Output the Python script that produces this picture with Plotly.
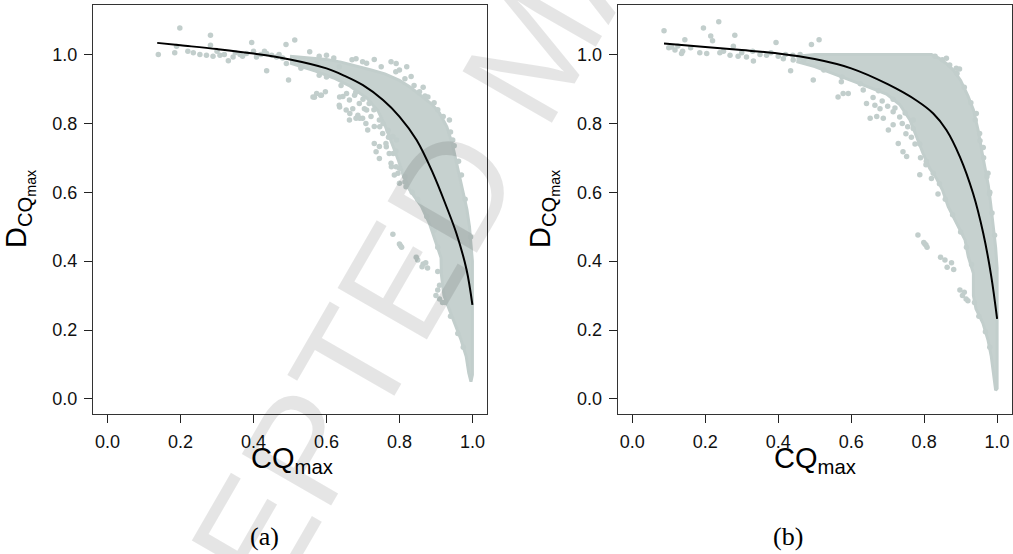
import plotly.graph_objects as go

# ---------------- data ----------------
tick_vals = [0.0, 0.2, 0.4, 0.6, 0.8, 1.0]
tick_text = ["0.0", "0.2", "0.4", "0.6", "0.8", "1.0"]

# fitted curves
fit_a_x = [0.136, 0.2, 0.3, 0.4, 0.5, 0.6, 0.65, 0.7, 0.755, 0.8, 0.847, 0.892, 0.929, 0.956, 0.984, 1.0]
fit_a_y = [1.034, 1.027, 1.016, 1.003, 0.986, 0.960, 0.938, 0.911, 0.868, 0.820, 0.752, 0.655, 0.558, 0.481, 0.375, 0.273]
fit_b_x = [0.087, 0.2, 0.3, 0.4, 0.5, 0.6, 0.7, 0.78, 0.825, 0.861, 0.898, 0.934, 0.962, 0.984, 1.0]
fit_b_y = [1.032, 1.022, 1.013, 1.003, 0.987, 0.960, 0.914, 0.866, 0.829, 0.781, 0.703, 0.597, 0.481, 0.356, 0.232]

# outline of the densest part of each point cloud
core_a_x = [0.50, 0.55, 0.60, 0.64, 0.68, 0.72, 0.76, 0.80, 0.83, 0.86, 0.89, 0.91, 0.93, 0.945, 0.955, 0.965,
            0.973, 0.985, 0.992, 0.997, 1.0, 1.0,
            0.996, 0.99, 0.983, 0.969, 0.951, 0.935, 0.922, 0.915, 0.914, 0.898, 0.882, 0.86, 0.828, 0.81,
            0.798, 0.78, 0.762, 0.742, 0.712, 0.665, 0.62, 0.57, 0.52, 0.50]
core_a_y = [0.995, 0.99, 0.986, 0.978, 0.968, 0.956, 0.944, 0.925, 0.905, 0.88, 0.855, 0.83, 0.79, 0.74, 0.69, 0.64,
            0.60, 0.55, 0.50, 0.45, 0.40, 0.07,
            0.05, 0.075, 0.123, 0.171, 0.22, 0.26, 0.30, 0.36, 0.41, 0.46, 0.51, 0.56, 0.607, 0.65,
            0.69, 0.74, 0.79, 0.835, 0.872, 0.908, 0.932, 0.952, 0.968, 0.975]

core_b_x = [0.45, 0.50, 0.82, 0.84, 0.86, 0.88, 0.90, 0.92, 0.935, 0.948, 0.958, 0.968, 0.976, 0.982, 0.989, 0.996,
            1.0, 1.0,
            0.996, 0.99, 0.984, 0.975, 0.961, 0.942, 0.935, 0.935, 0.921, 0.912, 0.889, 0.866, 0.85, 0.834,
            0.815, 0.797, 0.779, 0.761, 0.733, 0.697, 0.65, 0.60, 0.55, 0.50, 0.45]
core_b_y = [0.995, 1.0, 1.0, 0.99, 0.975, 0.955, 0.925, 0.88, 0.84, 0.78, 0.72, 0.67, 0.62, 0.57, 0.51, 0.44,
            0.38, 0.03,
            0.025, 0.074, 0.123, 0.171, 0.22, 0.262, 0.30, 0.365, 0.413, 0.462, 0.51, 0.558, 0.607, 0.64,
            0.67, 0.713, 0.762, 0.81, 0.855, 0.885, 0.905, 0.925, 0.945, 0.965, 0.98]

# individual points (sparser parts of the clouds)
pts_a_x = [0.139, 0.198, 0.184, 0.189, 0.282, 0.282, 0.253, 0.271, 0.289, 0.308, 0.331, 0.344, 0.395, 0.363,
           0.381, 0.408, 0.436, 0.463, 0.49, 0.509, 0.527, 0.436, 0.489, 0.513, 0.496, 0.563, 0.573, 0.586,
           0.554, 0.636, 0.655, 0.636, 0.664, 0.691, 0.71, 0.746, 0.769, 0.792, 0.764, 0.783, 0.778, 0.796, 0.815,
           0.22, 0.235, 0.30, 0.32, 0.35, 0.37, 0.42, 0.45, 0.47, 0.40, 0.43, 0.48,
           0.567, 0.584, 0.597, 0.635, 0.654, 0.672, 0.686, 0.663, 0.681, 0.699, 0.713, 0.731, 0.731, 0.736,
           0.745, 0.786, 0.777, 0.791, 0.80, 0.832, 0.855, 0.878, 0.937, 0.946, 0.635, 0.572, 0.681, 0.699, 0.731,
           0.782, 0.80, 0.803, 0.806, 0.846, 0.85, 0.865, 0.872, 0.877, 0.862, 0.90, 0.905, 0.91, 0.918,
           0.95, 0.962, 0.97, 0.98, 0.995, 0.94, 0.92, 0.895, 0.87, 0.84, 0.815, 0.79, 0.75, 0.71, 0.67, 0.62,
           0.58, 0.60, 0.82, 0.865, 0.905,
           0.905, 0.895, 0.875, 0.85, 0.835, 0.815, 0.80, 0.79, 0.77, 0.755, 0.73, 0.70, 0.68, 0.64, 0.60, 0.58,
           0.53, 0.96, 0.975, 0.94, 0.925, 0.91, 0.905,
           0.645, 0.663, 0.677, 0.69, 0.704, 0.717, 0.722, 0.708, 0.745, 0.754, 0.763, 0.772, 0.777, 0.791, 0.80,
           0.818, 0.745, 0.782]
pts_a_y = [1.0, 1.077, 1.005, 1.024, 1.056, 1.027, 1.0, 0.998, 0.995, 0.998, 0.982, 0.993, 1.035, 1.0,
           1.003, 0.993, 1.003, 0.993, 0.974, 0.979, 0.969, 0.953, 1.029, 1.042, 0.926, 0.877, 0.887, 0.882,
           1.008, 0.877, 0.887, 0.848, 0.829, 0.815, 0.839, 0.79, 0.78, 0.752, 0.732, 0.713, 0.674, 0.655, 0.645,
           1.01, 1.005, 1.01, 1.0, 1.005, 0.995, 1.0, 0.998, 1.0, 1.01, 1.01, 0.99,
           0.876, 0.882, 0.892, 0.853, 0.839, 0.843, 0.824, 0.81, 0.815, 0.815, 0.781, 0.791, 0.742, 0.718,
           0.698, 0.65, 0.979, 0.974, 0.955, 0.936, 0.892, 0.877, 0.81, 0.752, 0.965, 0.974, 0.988, 0.979, 0.986,
           0.478, 0.45, 0.445, 0.44, 0.411, 0.403, 0.392, 0.395, 0.38, 0.384, 0.30, 0.316, 0.29, 0.28,
           0.735, 0.69, 0.65, 0.58, 0.47, 0.775, 0.82, 0.86, 0.88, 0.91, 0.93, 0.95, 0.965, 0.975, 0.985, 0.99,
           0.995, 0.998, 0.965, 0.905, 0.84,
           0.44, 0.49, 0.53, 0.58, 0.60, 0.63, 0.67, 0.72, 0.76, 0.80, 0.84, 0.87, 0.89, 0.91, 0.935, 0.94,
           0.96, 0.19, 0.15, 0.24, 0.28, 0.33, 0.37,
           0.878, 0.868, 0.882, 0.858, 0.843, 0.858, 0.82, 0.80, 0.81, 0.771, 0.742, 0.713, 0.684, 0.674, 0.626,
           0.616, 0.733, 0.762]

pts_b_x = [0.087, 0.108, 0.117, 0.135, 0.138, 0.144, 0.195, 0.215, 0.237, 0.22, 0.185, 0.204, 0.24, 0.268,
           0.29, 0.313, 0.332, 0.281, 0.277, 0.394, 0.368, 0.414, 0.441, 0.459, 0.434, 0.491, 0.512, 0.496,
           0.564, 0.578, 0.592, 0.573,
           0.10, 0.125, 0.16, 0.25, 0.30, 0.33, 0.35, 0.38, 0.40, 0.42, 0.44, 0.46, 0.47,
           0.633, 0.642, 0.665, 0.679, 0.652, 0.67, 0.688, 0.702, 0.715, 0.729, 0.742, 0.752, 0.788, 0.715, 0.733,
           0.861, 0.888, 0.897, 0.943, 0.952, 0.962, 0.975, 0.98,
           0.838, 0.783, 0.799, 0.802, 0.805, 0.808, 0.845, 0.857, 0.875, 0.863, 0.881, 0.898, 0.905, 0.91, 0.915,
           0.92,
           0.83, 0.85, 0.87, 0.89, 0.91, 0.928, 0.94, 0.953, 0.963, 0.972, 0.979, 0.986, 0.993,
           0.93, 0.916, 0.90, 0.878, 0.858, 0.842, 0.825, 0.806, 0.788, 0.77, 0.748, 0.715, 0.675, 0.625, 0.575,
           0.525, 0.95, 0.968, 0.98, 0.938,
           0.66, 0.685, 0.70, 0.72, 0.74, 0.755, 0.765, 0.775, 0.79, 0.805, 0.82, 0.77, 0.75]
pts_b_y = [1.069, 1.022, 1.013, 1.003, 1.01, 1.043, 1.077, 1.054, 1.095, 1.04, 1.005, 1.003, 1.005, 0.998,
           0.995, 0.993, 0.981, 1.056, 1.024, 1.035, 0.998, 0.988, 0.984, 0.993, 0.953, 1.029, 1.043, 0.926,
           0.877, 0.887, 0.887, 0.921,
           1.02, 1.025, 1.02, 1.01, 1.005, 1.01, 1.0, 1.005, 0.995, 1.0, 0.998, 1.0, 0.985,
           0.897, 0.858, 0.853, 0.843, 0.815, 0.82, 0.815, 0.781, 0.796, 0.742, 0.718, 0.704, 0.651, 0.834, 0.819,
           0.989, 0.96, 0.958, 0.829, 0.771, 0.73, 0.655, 0.60,
           0.595, 0.476, 0.454, 0.45, 0.447, 0.44, 0.411, 0.403, 0.395, 0.382, 0.376, 0.316, 0.30, 0.31, 0.29,
           0.285,
           0.995, 0.985, 0.97, 0.945, 0.905, 0.86, 0.81, 0.75, 0.70, 0.645, 0.595, 0.54, 0.475,
           0.39, 0.44, 0.485, 0.535, 0.58, 0.625, 0.655, 0.69, 0.74, 0.785, 0.83, 0.87, 0.895, 0.915, 0.935,
           0.955, 0.24, 0.195, 0.15, 0.28,
           0.875, 0.865, 0.85, 0.845, 0.80, 0.79, 0.76, 0.74, 0.70, 0.68, 0.64, 0.81, 0.77]

# ---------------- styling ----------------
PT = "#c2cecc"
CORE = "#c6d1cf"
W, H = 1013, 554
y_dom = [1 - 414 / H, 1 - 5 / H]
xa_dom = [93 / W, 487 / W]
xb_dom = [617.7 / W, 1011.7 / W]

fig = go.Figure()

def add_panel(cx, cy, px, py, fx, fy, xa, ya):
    fig.add_trace(go.Scatter(x=cx, y=cy, mode="lines", fill="toself", fillcolor=CORE,
                             line=dict(color=PT, width=3), hoverinfo="skip", showlegend=False,
                             xaxis=xa, yaxis=ya))
    fig.add_trace(go.Scatter(x=px, y=py, mode="markers", marker=dict(color=PT, size=5.5),
                             showlegend=False, xaxis=xa, yaxis=ya))
    fig.add_trace(go.Scatter(x=fx, y=fy, mode="lines", line=dict(color="black", width=2, shape="spline",
                                                                 smoothing=1.0),
                             showlegend=False, xaxis=xa, yaxis=ya))

add_panel(core_a_x, core_a_y, pts_a_x, pts_a_y, fit_a_x, fit_a_y, "x", "y")
add_panel(core_b_x, core_b_y, pts_b_x, pts_b_y, fit_b_x, fit_b_y, "x2", "y2")

tickfont = dict(family="Liberation Sans, Arial, sans-serif", size=18, color="#111")
axis_common = dict(showgrid=False, zeroline=False, showline=True, mirror=True, linecolor="#333",
                   linewidth=1, ticks="outside", ticklen=8, tickwidth=1, tickcolor="#222",
                   tickvals=tick_vals, ticktext=tick_text, tickfont=tickfont, ticklabelstandoff=3)

fig.update_layout(
    width=W, height=H, margin=dict(l=0, r=0, t=0, b=0),
    paper_bgcolor="white", plot_bgcolor="white",
    xaxis=dict(domain=xa_dom, range=[-0.04, 1.04], anchor="y", **axis_common),
    yaxis=dict(domain=y_dom, range=[-0.044, 1.144], anchor="x", **axis_common),
    xaxis2=dict(domain=xb_dom, range=[-0.04, 1.04], anchor="y2", **axis_common),
    yaxis2=dict(domain=y_dom, range=[-0.044, 1.144], anchor="x2", **axis_common),
)

lab_font = dict(family="Liberation Sans, Arial, sans-serif", size=29, color="black")
cap_font = dict(family="Liberation Serif, Times New Roman, serif", size=26, color="black")
ann = []
for cx_title, cx_ylab, cap_x, cap in [(292, 19, 264, "(a)"), (815, 543, 788, "(b)")]:
    ann.append(dict(x=cx_title / W, y=1 - 460 / H, xref="paper", yref="paper", showarrow=False,
                    text="CQ<sub>max</sub>", font=lab_font, xanchor="center", yanchor="middle"))
    ann.append(dict(x=cx_ylab / W, y=1 - 209 / H, xref="paper", yref="paper", showarrow=False,
                    text="D<sub>CQ<sub>max</sub></sub>", font=lab_font, textangle=-90,
                    xanchor="center", yanchor="middle"))
    ann.append(dict(x=cap_x / W, y=1 - 536 / H, xref="paper", yref="paper", showarrow=False,
                    text=cap, font=cap_font, xanchor="center", yanchor="middle"))

# faint manuscript watermark
ann.append(dict(x=534 / W, y=1 - 50 / H, xref="paper", yref="paper", showarrow=False,
                text="ACCEPTED MANUSCRIPT", textangle=-60,
                font=dict(family="Liberation Sans, Arial, sans-serif", size=150, color="rgba(0,0,0,0.10)"),
                xanchor="center", yanchor="middle"))
fig.update_layout(annotations=ann)

fig.write_html("out.html", config={"displayModeBar": False},
               post_script="document.body.style.margin='0';document.body.style.overflow='hidden';")
